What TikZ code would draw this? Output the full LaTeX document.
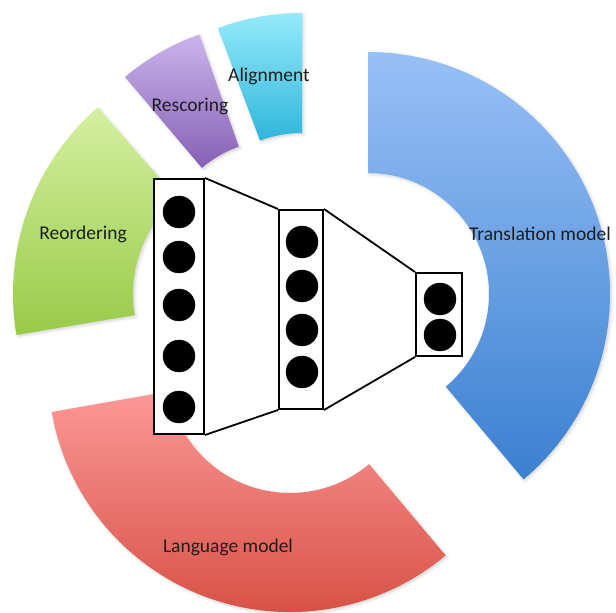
\documentclass[tikz,border=0pt]{standalone}
\usepackage{fontspec}
\setmainfont{Carlito}
\usetikzlibrary{calc,shadows.blur}
\definecolor{cyanT}{RGB}{148,234,251}
\definecolor{cyanB}{RGB}{48,182,218}
\definecolor{purT}{RGB}{202,180,236}
\definecolor{purB}{RGB}{134,96,180}
\definecolor{grnT}{RGB}{212,240,160}
\definecolor{grnB}{RGB}{152,202,72}
\definecolor{bluT}{RGB}{152,192,246}
\definecolor{bluB}{RGB}{58,128,208}
\definecolor{redT}{RGB}{252,152,152}
\definecolor{redB}{RGB}{212,76,62}
\definecolor{txt}{RGB}{30,30,30}
\tikzset{
  sector/.style={blur shadow={shadow xshift=1.5pt,shadow yshift=-1.5pt,shadow blur radius=3pt,shadow opacity=18}},
  layerbox/.style={draw=black,fill=white,line width=2pt,rectangle,inner sep=0pt},
  neuron/.style={circle,fill=black,draw=black,inner sep=0pt,minimum size=32pt},
  link/.style={draw=black,line width=1.8pt},
  lbl/.style={text=txt,font=\fontsize{19.5}{23}\selectfont,inner sep=0pt}
}
% #1 center, #2 start angle, #3 end angle, #4 outer radius, #5 inner radius
\newcommand{\ringpart}[5]{%
  ($#1+(#2:#4)$) arc[start angle=#2,end angle=#3,radius=#4]
  -- ($#1+(#3:#5)$) arc[start angle=#3,end angle=#2,radius=#5] -- cycle}
\begin{document}
\begin{tikzpicture}[x=1pt,y=1pt]
\useasboundingbox (0,0) rectangle (616,613);
% ring segments
\shade[sector,top color=cyanT,bottom color=cyanB] \ringpart{(302,360)}{90}{110.5}{240}{120};
\shade[sector,top color=purT,bottom color=purB] \ringpart{(278,355)}{109.4}{130.2}{237}{118};
\shade[sector,top color=grnT,bottom color=grnB] \ringpart{(261,319)}{131.2}{189.5}{248}{128};
\shade[sector,top color=redT,bottom color=redB] \ringpart{(290,243)}{190}{310}{242}{123};
\shade[sector,top color=bluT,bottom color=bluB] \ringpart{(368,319)}{-50}{90}{242}{121};
% labels
\node[lbl] (tAlign) at (269,537) {Alignment};
\node[lbl] (tResc) at (190,507) {Rescoring};
\node[lbl] (tReord) at (83,379) {Reordering};
\node[lbl] (tTrans) at (540,379) {Translation model};
\node[lbl] (tLang) at (228,66) {Language model};
% network layers
\node[layerbox,minimum width=50pt,minimum height=255pt] (b1) at (179,306.5) {};
\node[layerbox,minimum width=44pt,minimum height=199pt] (b2) at (301,303.5) {};
\node[layerbox,minimum width=46pt,minimum height=83pt] (b3) at (439,298.5) {};
\draw[link] (b1.north east) -- (b2.north west);
\draw[link] (b1.south east) -- (b2.south west);
\draw[link] (b2.north east) -- (b3.north west);
\draw[link] (b2.south east) -- (b3.south west);
\node[neuron] (n11) at (179,401) {};
\node[neuron] (n12) at (179,356) {};
\node[neuron] (n13) at (179,308) {};
\node[neuron] (n14) at (179,257) {};
\node[neuron] (n15) at (179,206) {};
\node[neuron] (n21) at (302,371) {};
\node[neuron] (n22) at (302,327) {};
\node[neuron] (n23) at (302,283) {};
\node[neuron] (n24) at (302,241) {};
\node[neuron] (n31) at (440,314) {};
\node[neuron] (n32) at (440,278) {};
\end{tikzpicture}
\end{document}
